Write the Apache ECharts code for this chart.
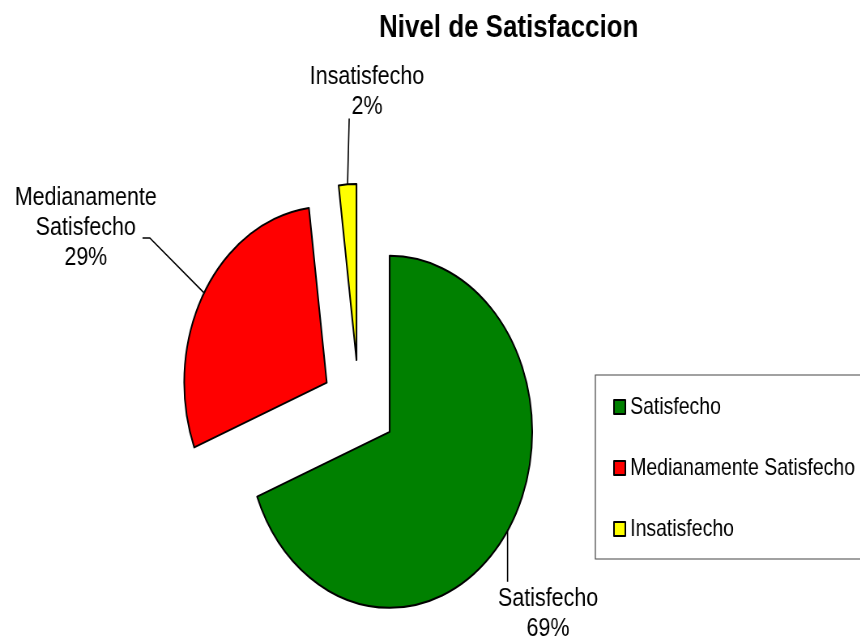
<!DOCTYPE html>
<html>
<head>
<meta charset="utf-8">
<script src="https://cdn.jsdelivr.net/npm/echarts@6/dist/echarts.min.js"></script>
<style>
    html, body { margin: 0; padding: 0; background: #fff; overflow: hidden; }
    #wrap { width: 860px; height: 641px; overflow: hidden; }
    /* la imagen original esta comprimida en horizontal */
    #main { width: 1062px; height: 641px; transform: scaleX(0.81); transform-origin: 0 0; }
</style>
</head>
<body>
<div id="wrap"><div id="main"></div></div>
<script>
var categories = ['Satisfecho', 'Medianamente Satisfecho', 'Insatisfecho'];
var labelNames = ['Satisfecho', 'Medianamente\nSatisfecho', 'Insatisfecho'];
var values = [69, 29, 2];
var colors = ['#008000', '#ff0000', '#ffff00'];

var pieCenter = [443, 406];
var pieRadius = 176;
var explode = 46;

// posicion de cada etiqueta, relativa al punto medio del borde de la porcion
var labelSpots = [
    { dx: 50, dy: 53, line: [[0, 0], [0, 51]] },
    { dx: -146, dy: -110, line: [[0, 0], [-67, -55], [-76, -55]] },
    { dx: 24, dy: -123, line: [[0, 0], [2, -66]] }
];

// direccion de la bisectriz de la porcion i (sentido horario desde arriba)
function midDir(i) {
    var total = 0, before = 0;
    for (var j = 0; j < values.length; j++) {
        total += values[j];
        if (j < i) before += values[j];
    }
    var mid = (before + values[i] / 2) / total * Math.PI * 2;
    return [Math.sin(mid), -Math.cos(mid)];
}

function edgePoint(i) {
    var u = midDir(i);
    return [pieCenter[0] + u[0] * (explode + pieRadius), pieCenter[1] + u[1] * (explode + pieRadius)];
}

// una serie por porcion, desplazada sobre su bisectriz (porcion separada)
function buildSeries(k) {
    var u = midDir(k);
    var data = [];
    for (var i = 0; i < categories.length; i++) {
        var item = { name: categories[i], value: values[i] };
        if (i === k) {
            item.itemStyle = { color: colors[i], borderColor: '#000', borderWidth: 2 };
        } else {
            item.itemStyle = { color: 'rgba(0,0,0,0)', borderWidth: 0 };
            item.label = { show: false };
            item.labelLine = { show: false };
        }
        data.push(item);
    }
    return {
        type: 'pie',
        center: [pieCenter[0] + u[0] * explode, pieCenter[1] + u[1] * explode],
        radius: pieRadius,
        startAngle: 90,
        clockwise: true,
        avoidLabelOverlap: false,
        silent: true,
        emphasis: { disabled: true },
        label: {
            show: true,
            position: 'outside',
            fontFamily: 'Liberation Sans',
            fontSize: 26.5,
            lineHeight: 30,
            color: '#000',
            formatter: function (p) {
                return labelNames[p.dataIndex] + '\n' + Math.round(p.percent) + '%';
            }
        },
        labelLine: {
            show: true,
            lineStyle: { color: '#000', width: 1.6 }
        },
        labelLayout: function (params) {
            var i = params.dataIndex;
            var e = edgePoint(i);
            var s = labelSpots[i];
            return {
                x: e[0] + s.dx,
                y: e[1] + s.dy,
                align: 'center',
                verticalAlign: 'top',
                labelLinePoints: s.line.map(function (p) { return [e[0] + p[0], e[1] + p[1]]; })
            };
        },
        data: data
    };
}

var legendData = [];
var series = [];
for (var k = 0; k < categories.length; k++) {
    legendData.push({
        name: categories[k],
        itemStyle: { color: colors[k], borderColor: '#000', borderWidth: 2 }
    });
    series.push(buildSeries(k));
}

var chart = echarts.init(document.getElementById('main'));
chart.setOption({
    animation: false,
    backgroundColor: '#fff',
    title: {
        text: 'Nivel de Satisfaccion',
        left: 468,
        top: 12,
        padding: 0,
        textStyle: {
            fontFamily: 'Liberation Sans',
            fontSize: 32,
            fontWeight: 'bold',
            color: '#000'
        }
    },
    legend: {
        orient: 'vertical',
        left: 735,
        top: 375,
        padding: [20, 40, 18, 22],
        itemGap: 37,
        itemWidth: 14,
        itemHeight: 14,
        icon: 'rect',
        borderColor: '#444',
        borderWidth: 1.2,
        selectedMode: false,
        data: legendData,
        textStyle: {
            fontFamily: 'Liberation Sans',
            fontSize: 24,
            lineHeight: 24,
            color: '#000',
            padding: [0, 0, 0, 1]
        }
    },
    series: series
});
</script>
</body>
</html>
